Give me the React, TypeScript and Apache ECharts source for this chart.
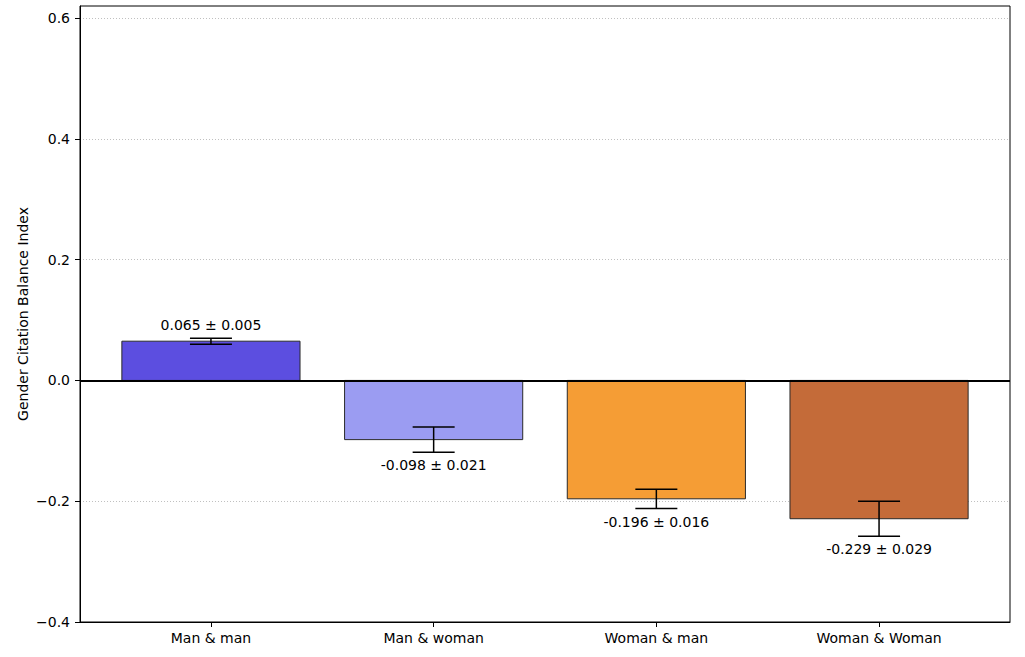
import React, { useEffect, useRef } from "react";
import * as echarts from "echarts";

const categories = ["Man & man", "Man & woman", "Woman & man", "Woman & Woman"];
const values = [0.065, -0.098, -0.196, -0.229];
const errors = [0.005, 0.021, 0.016, 0.029];
const barColors = ["#5c4ee0", "#9b9cf2", "#f59d35", "#c46b39"];
const yTicks = [-0.4, -0.2, 0, 0.2, 0.4, 0.6];
const catTicks = [0, 1, 2, 3];

const FONT = "DejaVu Sans";
const FS = 14;

export default function App() {
  const ref = useRef<HTMLDivElement>(null);
  useEffect(() => {
    if (!ref.current) return;
    const chart = echarts.init(ref.current, null, { renderer: "svg" });
    const data = values.map((v, i) => [
      i,
      v,
      errors[i],
      `${v.toFixed(3)} ± ${errors[i].toFixed(3)}`,
    ]);
    const fmtY = (v: number) =>
      (v < -1e-9 ? "−" : "") + Math.abs(v).toFixed(1);
    chart.setOption({
      animation: false,
      backgroundColor: "#ffffff",
      grid: {
        left: 80,
        top: 6,
        width: 930,
        height: 616,
        show: true,
        borderColor: "#000",
        borderWidth: 1,
        backgroundColor: "transparent",
      },
      xAxis: {
        type: "value",
        min: -0.588,
        max: 3.588,
        splitLine: { show: false },
        axisLine: { show: true, onZero: false, lineStyle: { color: "#000", width: 1 } },
        axisTick: {
          show: true,
          customValues: catTicks,
          length: 5,
          lineStyle: { color: "#000", width: 1 },
        },
        axisLabel: {
          customValues: catTicks,
          formatter: (v: number) => categories[Math.round(v)] ?? "",
          color: "#000",
          fontSize: FS,
          fontFamily: FONT,
          margin: 9,
        },
      },
      yAxis: {
        type: "value",
        min: -0.4,
        max: 0.62,
        interval: 0.2,
        name: "Gender Citation Balance Index",
        nameLocation: "middle",
        nameGap: 50,
        nameMoveOverlap: false,
        nameTextStyle: { color: "#000", fontSize: FS, fontFamily: FONT },
        axisLine: { show: true, onZero: false, lineStyle: { color: "#000", width: 1 } },
        axisTick: {
          show: true,
          customValues: yTicks,
          length: 5,
          lineStyle: { color: "#000", width: 1 },
        },
        axisLabel: {
          customValues: yTicks,
          formatter: fmtY,
          color: "#000",
          fontSize: FS,
          fontFamily: FONT,
          margin: 10,
        },
        splitLine: {
          show: true,
          lineStyle: { color: "#b0b0b0", width: 0.8, type: [1, 2] },
        },
      },
      series: [
        {
          type: "custom",
          data,
          renderItem: (params: any, api: any) => {
            const idx = params.dataIndex;
            const i = api.value(0);
            const v = api.value(1);
            const e = api.value(2);
            const label = data[idx][3] as string;
            const base = api.coord([i, 0]);
            const top = api.coord([i, v]);
            const w = api.size([0.8, 0])[0];
            const hi = api.coord([i, v + e]);
            const lo = api.coord([i, v - e]);
            const ly = api.coord([i, v >= 0 ? v + e + 0.01 : v - e - 0.01])[1];
            const capHalf = 21;
            return {
              type: "group",
              children: [
                {
                  type: "rect",
                  shape: {
                    x: base[0] - w / 2,
                    y: Math.min(base[1], top[1]),
                    width: w,
                    height: Math.abs(base[1] - top[1]),
                  },
                  style: { fill: barColors[idx], stroke: "#2a2a2a", lineWidth: 1 },
                },
                {
                  type: "line",
                  shape: { x1: hi[0], y1: hi[1], x2: lo[0], y2: lo[1] },
                  style: { stroke: "#000", lineWidth: 1.5 },
                },
                {
                  type: "line",
                  shape: { x1: hi[0] - capHalf, y1: hi[1], x2: hi[0] + capHalf, y2: hi[1] },
                  style: { stroke: "#000", lineWidth: 1.5 },
                },
                {
                  type: "line",
                  shape: { x1: lo[0] - capHalf, y1: lo[1], x2: lo[0] + capHalf, y2: lo[1] },
                  style: { stroke: "#000", lineWidth: 1.5 },
                },
                {
                  type: "text",
                  style: {
                    text: label,
                    x: hi[0],
                    y: ly,
                    align: "center",
                    verticalAlign: v >= 0 ? "bottom" : "top",
                    fill: "#000",
                    fontSize: FS,
                    fontFamily: FONT,
                  },
                },
              ],
            };
          },
          markLine: {
            silent: true,
            symbol: "none",
            label: { show: false },
            lineStyle: { color: "#000", width: 1.8, type: "solid" },
            data: [{ yAxis: 0 }],
            z: 10,
          },
        },
      ],
    });
    return () => chart.dispose();
  }, []);
  return (
    <div
      ref={ref}
      style={{ position: "fixed", left: 0, top: 0, width: 1025, height: 657 }}
    />
  );
}
